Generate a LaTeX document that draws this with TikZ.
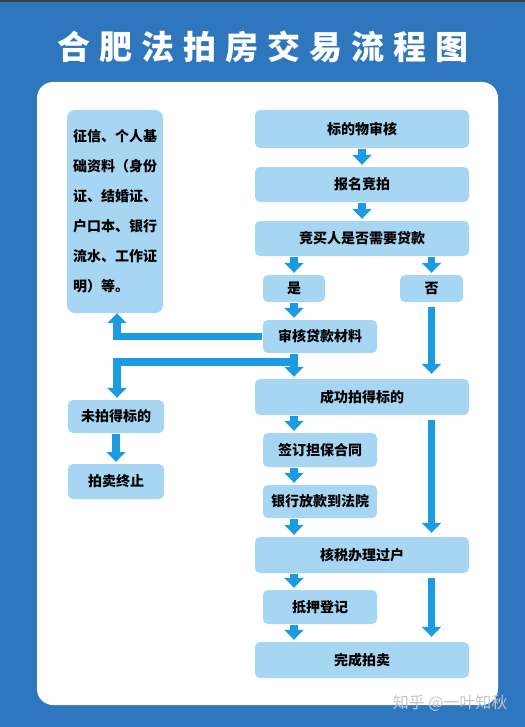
\documentclass[tikz,border=0pt]{standalone}
\usepackage{fontspec}
\newfontfamily\cjk{Noto Sans CJK SC}
\usetikzlibrary{arrows.meta, positioning}
\usepackage{xcolor}
\definecolor{pageblue}{HTML}{2E76BD}
\definecolor{arrowblue}{HTML}{1B9BE2}
\definecolor{boxblue}{HTML}{A7D6F3}
\newcommand\tsp{\hspace{9bp}}

\begin{document}
\begin{tikzpicture}[
    x=1bp, y=-1bp,
    every node/.style={font=\cjk\bfseries\fontsize{14bp}{16bp}\selectfont},
    box/.style={rectangle, fill=boxblue, rounded corners=5bp, inner sep=0pt, align=center, minimum height=35bp},
    widebox/.style={box, minimum width=214bp},
    midbox/.style={box, minimum width=114bp, minimum height=34bp},
    sidebox/.style={box, minimum width=96bp},
    arrow/.style={line width=7.5bp, draw=arrowblue, -{Triangle[width=19bp, length=10bp]}, shorten <=1bp, shorten >=2bp},
    longarrow/.style={arrow, shorten <=5bp, shorten >=5bp}
]
    \useasboundingbox (0,0) rectangle (525,727);
    % Background and panel
    \fill[pageblue] (0,0) rectangle (525,727);
    \fill[black!75] (0,0) rectangle (525,2);
    \fill[white, rounded corners=16bp] (37,82) rectangle (498,705);

    % Title
    \node[font=\cjk\bfseries\fontsize{33bp}{36bp}\selectfont, text=white] (title) at (263,47)
        {合\tsp 肥\tsp 法\tsp 拍\tsp 房\tsp 交\tsp 易\tsp 流\tsp 程\tsp 图};

    % Left column
    \node[sidebox, minimum height=203bp, rounded corners=8bp, align=left,
          font=\cjk\bfseries\fontsize{14bp}{30bp}\selectfont] (info) at (115,211.5)
        {征信、个人基\\础资料（身份\\证、结婚证、\\户口本、银行\\流水、工作证\\明）等。};
    \node[sidebox, minimum height=33bp] (lost) at (116,416.5) {未拍得标的};
    \node[sidebox] (stop) at (116,481.5) {拍卖终止};

    % Main column
    \node[widebox, minimum height=38bp] (audit) at (362,129) {标的物审核};
    \node[widebox] (signup) at (362,184.5) {报名竞拍};
    \node[widebox] (loan) at (362,238.5) {竞买人是否需要贷款};
    \node[box, minimum width=62bp, minimum height=27bp] (yes) at (294,288.5) {是};
    \node[box, minimum width=63bp, minimum height=27bp] (no) at (431.5,288.5) {否};
    \node[midbox, minimum height=33bp] (check) at (320,336.5) {审核贷款材料};
    \node[widebox, minimum height=36bp] (won) at (362,397) {成功拍得标的};
    \node[midbox] (contract) at (320,450) {签订担保合同};
    \node[midbox, minimum height=33bp] (bank) at (320,501.5) {银行放款到法院};
    \node[widebox, minimum height=36bp] (tax) at (362,555) {核税办理过户};
    \node[midbox] (mortgage) at (320,607) {抵押登记};
    \node[widebox, minimum height=36bp] (finish) at (362,660) {完成拍卖};

    % Watermark
    \node[font=\cjk\fontsize{16bp}{18bp}\selectfont, text=black!22, anchor=east] (mark) at (511,703) {知乎 @一叶知秋};

    % Arrows - bidding
    \draw[arrow] (audit) -- (signup);
    \draw[arrow] (signup) -- (loan);
    \draw[arrow] (loan.south -| yes) -- (yes);
    \draw[arrow] (loan.south -| no) -- (no);
    \draw[arrow] (yes) -- (yes |- check.north);
    \draw[longarrow] (no) -- (no |- won.north);

    % Arrows - loan materials
    \draw[arrow, shorten >=0bp] (check.west) -| ([xshift=2bp]info.south);
    \draw[arrow] (check.south -| yes) -- (won.north -| yes);
    \draw[arrow, shorten <=0bp] (check.south -| yes) ++(0,9) -| ([xshift=1bp]lost.north);
    \draw[arrow] (lost) -- (stop);

    % Arrows - after winning
    \draw[arrow] (won.south -| yes) -- (contract.north -| yes);
    \draw[arrow] (contract.south -| yes) -- (bank.north -| yes);
    \draw[arrow] (bank.south -| yes) -- (tax.north -| yes);
    \draw[longarrow, shorten >=4bp] (won.south -| no) -- (tax.north -| no);
    \draw[arrow] (tax.south -| yes) -- (mortgage.north -| yes);
    \draw[arrow] (mortgage.south -| yes) -- (finish.north -| yes);
    \draw[longarrow] (tax.south -| no) -- (finish.north -| no);
\end{tikzpicture}
\end{document}
